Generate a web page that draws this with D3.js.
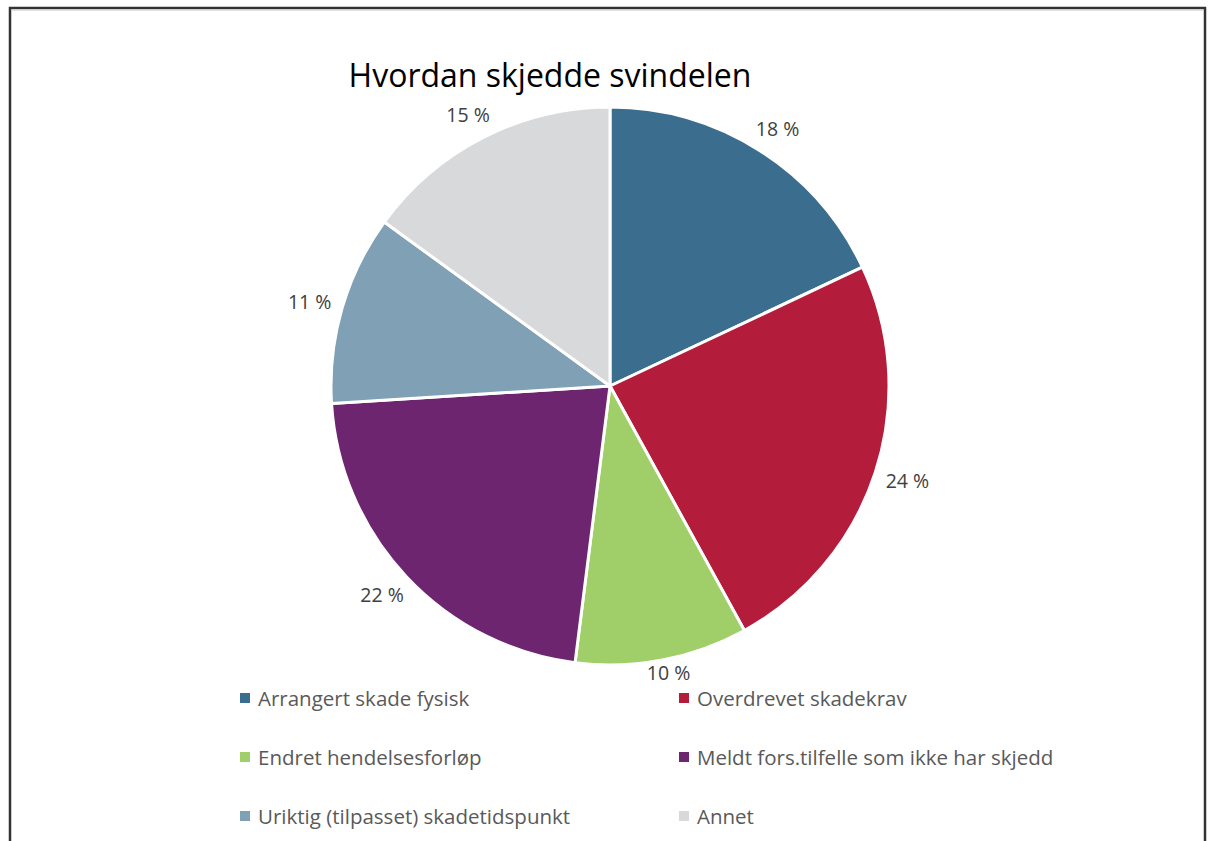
<!DOCTYPE html>
<html>
<head>
<meta charset="utf-8">
<script src="https://cdn.jsdelivr.net/npm/d3@7"></script>
<style>
  body { margin: 0; background: #fff; }
  svg text { font-family: "Open Sans", "Noto Sans", sans-serif; }
</style>
</head>
<body>
<svg id="chart" width="1213" height="841"></svg>
<script>
// slices, clockwise from 12 o'clock
var categories = ["Arrangert skade fysisk", "Overdrevet skadekrav", "Endret hendelsesforløp",
                  "Meldt fors.tilfelle som ikke har skjedd", "Uriktig (tilpasset) skadetidspunkt", "Annet"];
var shares = [18, 24, 10, 22, 11, 15];
var colors = ["#3b6d8e", "#b31c3b", "#a0cf69", "#6d256f", "#7fa0b5", "#d8d9db"];
var title = "Hvordan skjedde svindelen";

var svg = d3.select("#chart");

// frame around the figure (bottom runs off the page)
svg.append("path")
    .attr("d", "M10,850V8H1205V850")
    .attr("fill", "none")
    .attr("stroke", "#333")
    .attr("stroke-width", 2.5);
svg.append("line")
    .attr("x1", 11).attr("x2", 1204).attr("y1", 10).attr("y2", 10)
    .attr("stroke", "#c8c8c8").attr("stroke-width", 1);

svg.append("text")
    .attr("x", 550)
    .attr("y", 87)
    .attr("text-anchor", "middle")
    .attr("font-size", 32)
    .attr("fill", "#000")
    .text(title);

var cx = 610, cy = 386, r = 279;
var colX = [240, 679], rowY = [698, 757, 816];
var plotBottom = rowY[0] - 12; // labels stay above the legend

var data = categories.map(function(c, i) { return {name: c, value: shares[i], color: colors[i]}; });

var pie = d3.pie().sort(null).value(function(d) { return d.value; });
var arc = d3.arc().innerRadius(0).outerRadius(r);
var arcs = pie(data);

var g = svg.append("g").attr("transform", "translate(" + cx + "," + cy + ")");

g.selectAll("path.slice")
  .data(arcs)
  .enter().append("path")
    .attr("class", "slice")
    .attr("d", arc)
    .attr("fill", function(d) { return d.data.color; })
    .attr("stroke", "#fff")
    .attr("stroke-width", 3)
    .attr("stroke-linejoin", "round");

// labels outside end, box pushed out along the mid angle
var labels = g.selectAll("text.lbl")
  .data(arcs)
  .enter().append("text")
    .attr("class", "lbl")
    .attr("font-size", 19.5)
    .attr("fill", "#404040")
    .attr("text-anchor", "middle")
    .attr("dominant-baseline", "central")
    .text(function(d) { return d.data.value + " %"; });

labels.each(function(d) {
  var bb = this.getBBox();
  var a = (d.startAngle + d.endAngle) / 2;
  var s = Math.sin(a), c = Math.cos(a);
  var rr = r + 12;
  var x = rr * s + s * bb.width / 2;
  var y = -rr * c - c * bb.height / 2;
  y = Math.min(y, plotBottom - cy - bb.height / 2);
  d3.select(this).attr("x", x).attr("y", y);
});

// legend, two columns
var legend = svg.append("g").selectAll("g")
  .data(data)
  .enter().append("g")
    .attr("transform", function(d, i) {
      return "translate(" + colX[i % 2] + "," + rowY[Math.floor(i / 2)] + ")";
    });

legend.append("rect")
    .attr("x", 0).attr("y", -5)
    .attr("width", 10).attr("height", 10)
    .attr("fill", function(d) { return d.color; });

legend.append("text")
    .attr("x", 18)
    .attr("y", 0)
    .attr("dominant-baseline", "central")
    .attr("font-size", 20.5)
    .attr("fill", "#595959")
    .text(function(d) { return d.name; });
</script>
</body>
</html>
